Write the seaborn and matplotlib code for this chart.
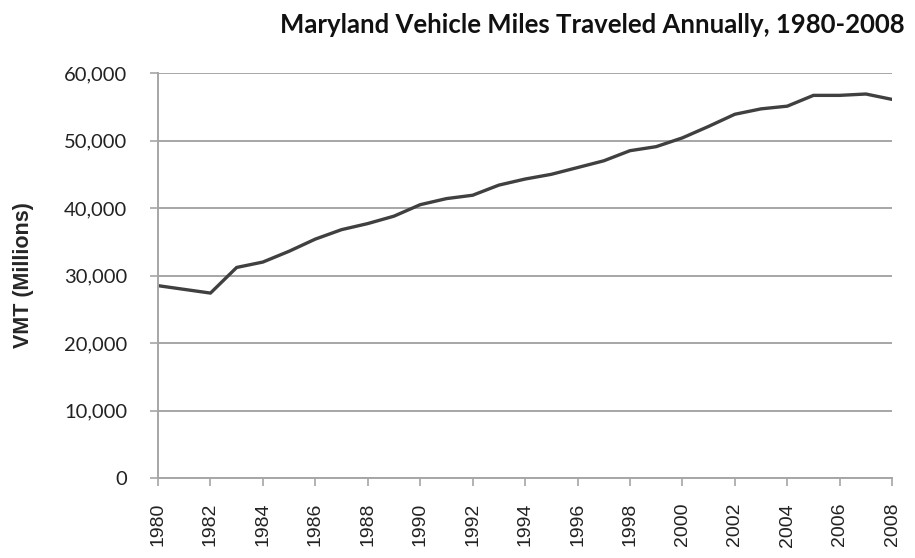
import matplotlib
matplotlib.use("Agg")
import matplotlib.pyplot as plt
import matplotlib.ticker as mticker
import pandas as pd
import seaborn as sns

years = list(range(1980, 2009))
vmt_millions = [28500, 27950, 27400, 31200, 32000, 33600, 35400, 36800, 37700,
                38800, 40500, 41400, 41900, 43400, 44300, 45000, 46000, 47000,
                48500, 49100, 50400, 52100, 53900, 54700, 55100, 56700, 56700,
                56900, 56100]
x_ticks = list(range(1980, 2009, 2))
y_ticks = [0, 10000, 20000, 30000, 40000, 50000, 60000]

title = "Maryland Vehicle Miles Traveled Annually, 1980-2008"
y_label = "VMT (Millions)"

sns.set_style("white")
plt.rcParams["font.family"] = ["Lato", "DejaVu Sans"]

df = pd.DataFrame({"Year": years, "VMT": vmt_millions})

fig = plt.figure(figsize=(9.15, 5.58), dpi=100)
ax = fig.add_axes([0.1727, 0.1434, 0.975 - 0.1727, 0.869 - 0.1434])

grid_color = "#a6a6a6"
sns.lineplot(data=df, x="Year", y="VMT", ax=ax, color="#404040", linewidth=2.4)

ax.set_xlim(1980, 2008)
ax.set_ylim(0, 60000)
ax.set_xticks(x_ticks)
ax.set_yticks(y_ticks)
ax.yaxis.set_major_formatter(mticker.FuncFormatter(lambda v, p: f"{int(v):,}"))

ax.grid(axis="y", color=grid_color, linewidth=1.4)
ax.set_axisbelow(True)
for side in ("top", "right"):
    ax.spines[side].set_visible(False)
for side in ("left", "bottom"):
    ax.spines[side].set_color(grid_color)
    ax.spines[side].set_linewidth(1.4)

ax.tick_params(axis="y", which="major", length=6, width=1.2, color=grid_color,
               labelsize=14.5, labelcolor="#222222", pad=16, direction="out", left=True)
ax.tick_params(axis="x", which="major", length=6, width=1.2, color=grid_color,
               labelsize=14, labelcolor="#222222", pad=12, direction="out", bottom=True)
for lab in ax.get_xticklabels():
    lab.set_rotation(90)
    lab.set_fontfamily(["Liberation Sans", "DejaVu Sans"])

ax.set_xlabel("")
ax.set_ylabel(y_label, fontsize=15.5, fontweight="bold",
              fontfamily=["Liberation Sans", "DejaVu Sans"], labelpad=22)

fig.text(0.989, 0.955, title, ha="right", va="center", fontsize=18.5,
         fontweight="bold", color="#111111")

fig.savefig("out.png", dpi=100)
